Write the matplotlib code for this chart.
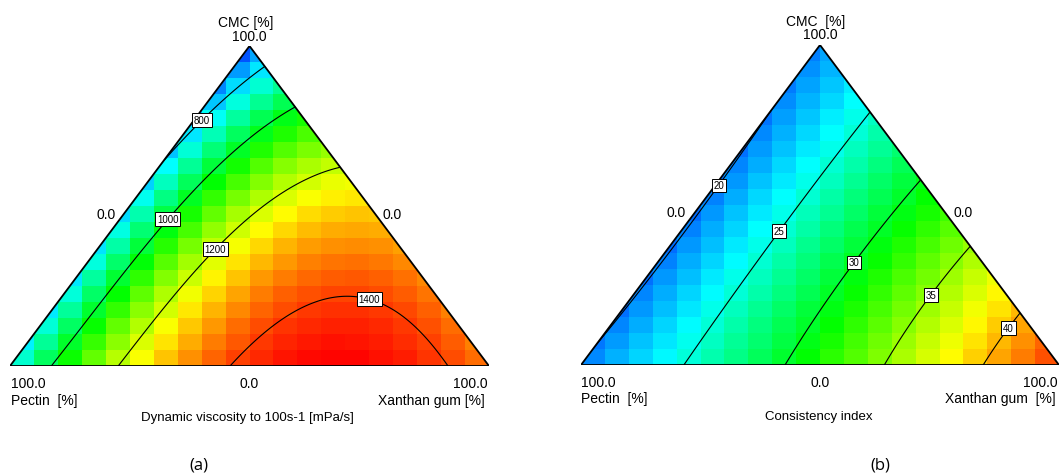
import numpy as np
import matplotlib
matplotlib.use("Agg")
import matplotlib.pyplot as plt
from matplotlib.colors import LinearSegmentedColormap
from matplotlib.patches import Polygon

plt.rcParams['font.family'] = ['Liberation Sans', 'DejaVu Sans']

# --- Blend compositions (fractions) and measured responses ---
# Dynamic viscosity at 100 s-1 [mPa/s]
visc_pectin = [1.0, 0.0, 0.0, 0.0, 0.112, 0.214, 0.314, 0.422, 0.0, 0.24, 0.444, 0.68, 0.908,
               0.0, 0.186, 0.389, 0.634, 0.776, 0.529, 0.333, 0.264, 0.200, 0.152, 0.109,
               0.072, 0.060, 0.071, 0.30, 0.70]
visc_xanthan = [0.0, 1.0, 0.0, 0.072, 0.044, 0.017, 0.008, 0.0, 0.187, 0.104, 0.087, 0.089, 0.092,
                0.371, 0.314, 0.242, 0.219, 0.224, 0.471, 0.530, 0.565, 0.606, 0.649, 0.703,
                0.776, 0.856, 0.929, 0.68, 0.0]
visc_cmc = [0.0, 0.0, 1.0, 0.928, 0.844, 0.769, 0.678, 0.578, 0.813, 0.656, 0.469, 0.231, 0.0,
            0.629, 0.5, 0.369, 0.147, 0.0, 0.0, 0.137, 0.171, 0.194, 0.199, 0.188,
            0.152, 0.084, 0.0, 0.02, 0.30]
visc_value = [850, 1340, 690, 800, 800, 800, 800, 800, 1000, 1000, 1000, 1000, 1000,
              1200, 1200, 1200, 1200, 1200, 1400, 1400, 1400, 1400, 1400, 1400,
              1400, 1400, 1400, 1465, 815]
visc_levels = [800, 1000, 1200, 1400]

# Consistency index
cons_pectin = [1.0, 0.0, 0.0, 0.5, 0.21, 0.95, 0.42, 0.0, 0.377, 0.785, 0.0, 0.267, 0.573,
               0.0, 0.159, 0.366, 0.0, 0.05, 0.157]
cons_xanthan = [0.0, 1.0, 0.0, 0.0, 0.0, 0.0, 0.008, 0.21, 0.204, 0.215, 0.42, 0.414, 0.427,
                0.63, 0.622, 0.634, 0.84, 0.831, 0.843]
cons_cmc = [0.0, 0.0, 1.0, 0.5, 0.79, 0.05, 0.572, 0.79, 0.419, 0.0, 0.58, 0.319, 0.0,
            0.37, 0.219, 0.0, 0.16, 0.119, 0.0]
cons_value = [20.1, 43.8, 20.3, 19.8, 20, 20, 20, 25, 25, 25, 30, 30, 30,
              35, 35, 35, 40, 40, 40]
cons_levels = [20, 25, 30, 35, 40]


def cubic_terms(p, x, c):
    # full cubic Scheffe mixture model
    return np.stack([p, x, c, p * x, p * c, x * c,
                     p * x * (p - x), p * c * (p - c), x * c * (x - c), p * x * c], axis=-1)


def fit_surface(p, x, c, v):
    A = cubic_terms(np.array(p), np.array(x), np.array(c))
    coef, *_ = np.linalg.lstsq(A, np.array(v, dtype=float), rcond=None)
    return lambda p, x, c: cubic_terms(p, x, c) @ coef


# blue -> cyan -> green -> yellow -> red palette
palette = LinearSegmentedColormap.from_list(
    'mixture', ['#001aff', '#00ffff', '#00ff00', '#ffff00', '#ff0000'])


def draw_ternary(ax, surface, levels, label_pos, vmin, vmax):
    # x = xanthan + cmc/2, y = cmc
    tri = Polygon([(0, 0), (1, 0), (0.5, 1)], closed=True, fill=False,
                  ec='black', lw=1.3, zorder=5)
    ax.add_patch(tri)

    # coarse 20x20 cells coloured by the response at the cell centre
    edges = np.linspace(0, 1, 21)
    mid = (edges[:-1] + edges[1:]) / 2
    cx, cy = np.meshgrid(mid, mid)
    z = surface(1 - cx - cy / 2, cx - cy / 2, cy)
    mesh = ax.pcolormesh(edges, edges, z, cmap=palette, vmin=vmin, vmax=vmax,
                         shading='flat', antialiased=False)
    mesh.set_clip_path(tri)

    # fine grid for the iso-lines
    fx, fy = np.meshgrid(np.linspace(0, 1, 401), np.linspace(0, 1, 401))
    fz = surface(1 - fx - fy / 2, fx - fy / 2, fy)
    cs = ax.contour(fx, fy, fz, levels=levels, colors='black', linewidths=0.8, zorder=3)
    cs.set_clip_path(tri)
    labels = ax.clabel(cs, fmt='%d', manual=label_pos, inline=False, fontsize=7)
    for t in labels:
        t.set_rotation(0)
        t.set_zorder(6)
        t.set_bbox(dict(boxstyle='square,pad=0.18', fc='white', ec='black', lw=0.7))

    ax.set_xlim(0, 1)
    ax.set_ylim(0, 1)
    ax.axis('off')


W, H = 1059, 477
fig = plt.figure(figsize=(W / 100, H / 100), dpi=100)


def put(px, py, s, ha='center', size=10, **kw):
    fig.text(px / W, 1 - py / H, s, ha=ha, va='center', fontsize=size, **kw)


viscosity = fit_surface(visc_pectin, visc_xanthan, visc_cmc, visc_value)
consistency = fit_surface(cons_pectin, cons_xanthan, cons_cmc, cons_value)

ax_a = fig.add_axes([10 / W, 110 / H, 479 / W, 320 / H])
draw_ternary(ax_a, viscosity, visc_levels,
             [(0.401, 0.769), (0.322, 0.469), (0.426, 0.369), (0.748, 0.199)], 615, 1455)

ax_b = fig.add_axes([581 / W, 111 / H, 478 / W, 320 / H])
draw_ternary(ax_b, consistency, cons_levels,
             [(0.278, 0.572), (0.414, 0.419), (0.573, 0.319), (0.732, 0.219), (0.891, 0.119)],
             16.8, 45.2)

# panel (a) annotations
put(246, 23, 'CMC [%]')
put(249, 37, '100.0')
put(106, 215, '0.0')
put(392, 215, '0.0')
put(11, 384, '100.0', ha='left')
put(249, 384, '0.0')
put(488, 384, '100.0', ha='right')
put(11, 401, 'Pectin  [%]', ha='left')
put(485, 401, 'Xanthan gum [%]', ha='right')
put(247, 418, 'Dynamic viscosity to 100s-1 [mPa/s]', size=9.5)
put(199, 466, '(a)', size=12, family='Open Sans')

# panel (b) annotations
put(816, 22, 'CMC  [%]')
put(820, 35, '100.0')
put(676, 213, '0.0')
put(963, 213, '0.0')
put(581, 383, '100.0', ha='left')
put(820, 383, '0.0')
put(1058, 383, '100.0', ha='right')
put(581, 399, 'Pectin  [%]', ha='left')
put(1056, 399, 'Xanthan gum  [%]', ha='right')
put(819, 417, 'Consistency index', size=9.5)
put(880, 466, '(b)', size=12, family='Open Sans')

fig.savefig('out.png', dpi=100)
